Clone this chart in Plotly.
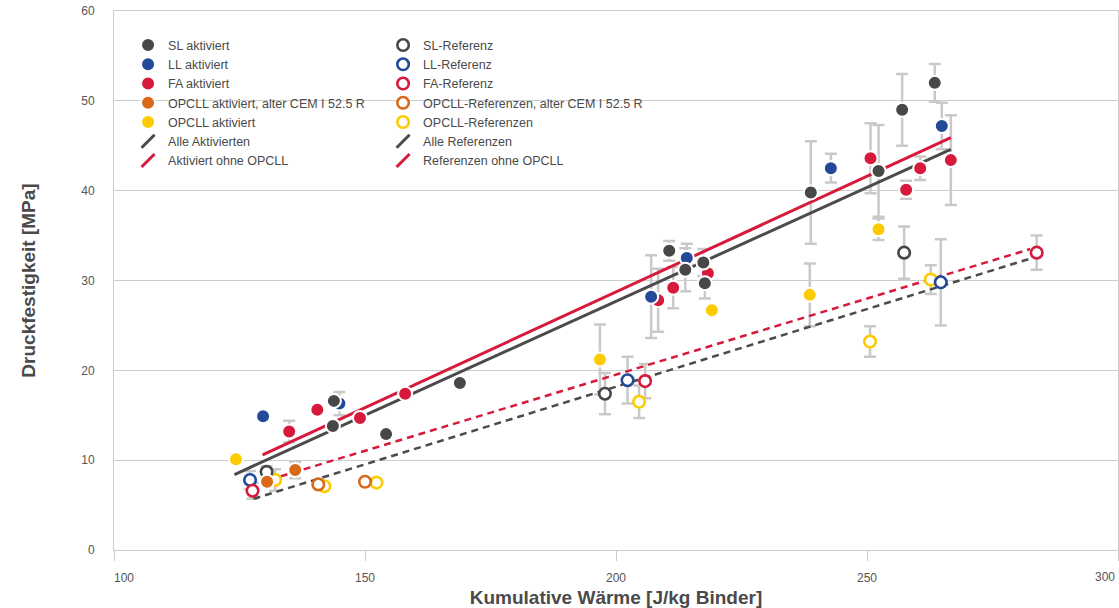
import plotly.graph_objects as go

# ---------------- data ----------------
# activated (filled markers)
sl_x = [143.8, 143.6, 154.2, 168.9, 210.6, 213.8, 217.4, 217.7, 238.8, 252.3, 257.0, 263.5]
sl_y = [16.6, 13.8, 12.9, 18.6, 33.3, 31.2, 32.0, 29.7, 39.8, 42.2, 49.0, 52.0]
sl_e = [None, None, None, None, 1.1, 2.4, 1.5, 1.7, 5.7, 5.1, 4.0, 2.1]

ll_x = [129.7, 144.9, 207.0, 214.1, 242.8, 264.9]
ll_y = [14.9, 16.3, 28.2, 32.5, 42.5, 47.2]
ll_e = [None, 1.3, 4.6, 1.6, 1.6, 2.6]

fa_x = [134.9, 140.5, 149.0, 158.0, 208.4, 211.4, 218.3, 250.7, 257.8, 260.6, 266.7]
fa_y = [13.2, 15.6, 14.7, 17.4, 27.8, 29.2, 30.8, 43.6, 40.1, 42.5, 43.4]
fa_e = [1.2, None, None, None, 3.5, 2.3, None, 3.9, 1.0, 1.3, 5.0]

opo_x = [130.5, 136.1]
opo_y = [7.6, 8.9]
opo_e = [None, 0.9]

op_x = [124.3, 196.8, 219.1, 238.6, 252.3]
op_y = [10.1, 21.2, 26.7, 28.4, 35.7]
op_e = [None, 3.9, None, 3.5, 1.2]

# references (open markers)
slr_x = [130.4, 197.8, 257.4]
slr_y = [8.7, 17.4, 33.1]
slr_e = [0.6, 2.3, 2.9]

llr_x = [127.1, 202.3, 264.7]
llr_y = [7.8, 18.9, 29.8]
llr_e = [1.0, 2.6, 4.8]

far_x = [127.6, 205.8, 283.8]
far_y = [6.6, 18.8, 33.1]
far_e = [0.9, 1.9, 1.9]

opor_x = [140.7, 150.0]
opor_y = [7.3, 7.6]
opor_e = [None, None]

opr_x = [132.1, 141.9, 152.3, 204.6, 250.6, 262.7]
opr_y = [7.8, 7.1, 7.5, 16.5, 23.2, 30.1]
opr_e = [1.2, None, None, 1.8, 1.7, 1.6]

# trend lines (end points)
fit_all_act_x = [124.0, 266.7]
fit_all_act_y = [8.4, 44.6]
fit_act_noop_x = [129.6, 266.7]
fit_act_noop_y = [10.6, 45.9]
fit_all_ref_x = [127.8, 282.3]
fit_all_ref_y = [5.7, 32.4]
fit_ref_noop_x = [133.2, 282.5]
fit_ref_noop_y = [8.2, 33.5]

x_ticks = [100, 150, 200, 250, 300]
x_tick_text = ["\u00a0" * 6 + "100", "150", "200", "250", ""]
x_last_label = "300"

# ---------------- styles ----------------
C_SL = "#474747"
C_LL = "#234a97"
C_FA = "#d71a3b"
C_OPO = "#d96818"
C_OP = "#fdcb00"
C_ERR = "#c9c9c9"
C_GRID = "#cdcdcd"
FONT = "Liberation Sans, Arial, sans-serif"

fig = go.Figure()

series = [
    # name, x, y, err, color, filled, legend, rank
    ("OPCLL-Referenzen", opr_x, opr_y, opr_e, C_OP, False, "legend2", 5),
    ("OPCLL-Referenzen, alter CEM I 52.5 R", opor_x, opor_y, opor_e, C_OPO, False, "legend2", 4),
    ("SL-Referenz", slr_x, slr_y, slr_e, C_SL, False, "legend2", 1),
    ("LL-Referenz", llr_x, llr_y, llr_e, C_LL, False, "legend2", 2),
    ("FA-Referenz", far_x, far_y, far_e, C_FA, False, "legend2", 3),
    ("OPCLL aktiviert", op_x, op_y, op_e, C_OP, True, "legend", 5),
    ("OPCLL aktiviert, alter CEM I 52.5 R", opo_x, opo_y, opo_e, C_OPO, True, "legend", 4),
    ("FA aktiviert", fa_x, fa_y, fa_e, C_FA, True, "legend", 3),
    ("LL aktiviert", ll_x, ll_y, ll_e, C_LL, True, "legend", 2),
    ("SL aktiviert", sl_x, sl_y, sl_e, C_SL, True, "legend", 1),
]

# error bars first (behind everything)
for name, xs, ys, es, col, filled, lg, rk in series:
    fig.add_trace(go.Scatter(
        x=xs, y=ys, mode="markers", marker=dict(size=1, opacity=0),
        error_y=dict(type="data", array=es, visible=True, color=C_ERR, thickness=2.5, width=6),
        showlegend=False, hoverinfo="skip"))

# trend lines
lines = [
    ("Alle Aktivierten", fit_all_act_x, fit_all_act_y, "#4b4b4b", "solid", "legend", 6),
    ("Aktiviert ohne OPCLL", fit_act_noop_x, fit_act_noop_y, C_FA, "solid", "legend", 7),
    ("Alle Referenzen", fit_all_ref_x, fit_all_ref_y, "#4b4b4b", "7px,5px", "legend2", 6),
    ("Referenzen ohne OPCLL", fit_ref_noop_x, fit_ref_noop_y, C_FA, "7px,5px", "legend2", 7),
]
for name, xs, ys, col, dash, lg, rk in lines:
    fig.add_trace(go.Scatter(
        x=xs, y=ys, mode="lines", line=dict(color=col, width=3 if dash == "solid" else 2.5, dash=dash),
        showlegend=False, hoverinfo="skip"))
    # legend entry with diagonal stroke
    fig.add_trace(go.Scatter(
        x=[None], y=[None], mode="markers", name=name, legend=lg, legendrank=rk,
        marker=dict(symbol="line-ne", size=13, color=col, line=dict(color=col, width=3))))

# markers
for name, xs, ys, es, col, filled, lg, rk in series:
    if filled:
        mk = dict(size=14, color=col, line=dict(color="white", width=2))
    else:
        mk = dict(size=11.5, color="white", line=dict(color=col, width=2.6))
    fig.add_trace(go.Scatter(
        x=xs, y=ys, mode="markers", name=name, marker=mk,
        legend=lg, legendrank=rk))

fig.update_layout(
    width=1119, height=608,
    margin=dict(l=114, r=1, t=11, b=58),
    paper_bgcolor="white", plot_bgcolor="white",
    font=dict(family=FONT, color="#555555", size=12),
    legend=dict(x=0.014, y=0.964, xanchor="left", yanchor="top", bgcolor="rgba(0,0,0,0)",
                font=dict(family=FONT, size=12.5, color="#4a4a4a"), traceorder="normal",
                itemclick=False),
    legend2=dict(x=0.268, y=0.964, xanchor="left", yanchor="top", bgcolor="rgba(0,0,0,0)",
                 font=dict(family=FONT, size=12.5, color="#4a4a4a"), traceorder="normal",
                 itemclick=False),
    shapes=[dict(type="rect", xref="paper", yref="paper", x0=0.011, x1=0.556, y0=0.71, y1=0.962,
                 fillcolor="white", line=dict(width=0), layer="between")],
    annotations=[dict(text=x_last_label, x=x_ticks[-1], xref="x", y=0, yref="y",
                      xanchor="right", yanchor="middle", yshift=-27, xshift=-1, showarrow=False,
                      font=dict(family=FONT, size=12, color="#555555"))],
)

fig.update_xaxes(
    range=[100, 300], tickvals=x_ticks, ticktext=x_tick_text,
    ticks="outside", ticklen=10, tickcolor=C_GRID, tickwidth=1,
    showgrid=False, zeroline=False, showline=True, linecolor=C_GRID, linewidth=1, mirror=True,
    tickfont=dict(family=FONT, size=12, color="#555555"), ticklabelstandoff=7, automargin=False,
    title=dict(text="Kumulative Wärme [J/kg Binder]",
               font=dict(family=FONT, size=19, color="#4a4a4a", weight="bold"), standoff=8),
)
fig.update_yaxes(
    range=[0, 60], dtick=10, tick0=0,
    ticks="", showgrid=True, gridcolor=C_GRID, gridwidth=1,
    zeroline=False, showline=True, linecolor=C_GRID, linewidth=1, mirror=True,
    tickfont=dict(family=FONT, size=12, color="#555555"), ticklabelstandoff=16, automargin=False,
    title=dict(text="Druckfestigkeit [MPa]",
               font=dict(family=FONT, size=19, color="#4a4a4a", weight="bold"), standoff=40),
)

fig.write_html("out.html", config={"displayModeBar": False},
               post_script="document.body.style.margin='0';")
